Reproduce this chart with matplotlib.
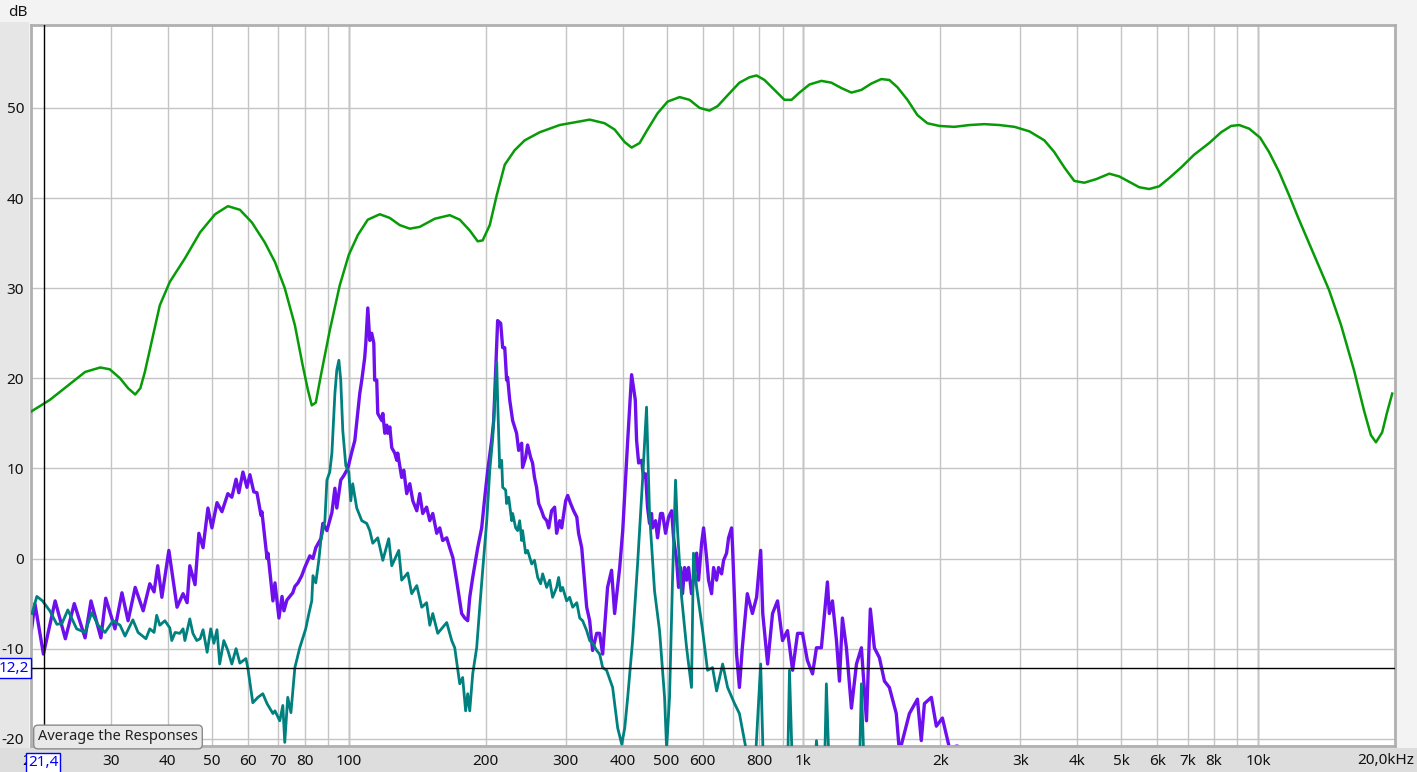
import numpy as np
import matplotlib
matplotlib.use('Agg')
import matplotlib.pyplot as plt
from matplotlib.ticker import LogLocator, NullFormatter
from matplotlib.patches import Rectangle

plt.rcParams['font.family'] = ['Noto Sans', 'DejaVu Sans']
plt.rcParams['axes.unicode_minus'] = False

# smoothed average response (green), (Hz, dB)
avg_points = [
    (20.0, 16.3), (22.0, 17.6), (24.4, 19.4), (26.3, 20.7), (28.4, 21.2), (29.8, 21.0),
    (31.4, 20.0), (32.7, 18.9), (33.9, 18.2), (34.8, 18.9), (35.6, 20.7), (36.9, 24.2),
    (38.4, 28.1), (40.4, 30.7), (43.6, 33.3), (47.1, 36.2), (50.8, 38.2), (54.2, 39.1),
    (57.6, 38.7), (61.2, 37.3), (65.3, 35.1), (68.8, 32.9), (72.3, 30.0), (76.1, 25.9),
    (79.2, 21.4), (81.3, 18.7), (82.9, 17.0), (84.6, 17.3), (86.8, 20.3), (90.8, 25.3),
    (95.5, 30.3), (100, 33.7), (104.7, 35.9), (110.1, 37.6), (117.0, 38.2), (123.0, 37.8),
    (129.4, 37.0), (136.2, 36.6), (143.2, 36.8), (154.5, 37.7), (166.7, 38.1), (175.4, 37.6),
    (184.5, 36.4), (192.1, 35.2), (197.0, 35.3), (204.2, 37.0), (211.5, 40.3), (220.3, 43.7),
    (231.6, 45.3), (243.7, 46.4), (263.0, 47.3), (290.9, 48.1), (313.9, 48.4), (338.7, 48.7),
    (365.3, 48.3), (384.3, 47.6), (404.5, 46.2), (418.8, 45.6), (436.1, 46.1), (454.0, 47.6),
    (477.6, 49.4), (502.5, 50.7), (534, 51.2), (561.4, 50.9), (591, 50.0), (621.2, 49.7),
    (647.5, 50.2), (681.0, 51.4), (723.0, 52.8), (760.8, 53.4), (788.6, 53.6), (820.8, 53.1),
    (863.4, 52.0), (908.1, 50.9), (941.6, 50.9), (980.0, 51.7), (1031, 52.6), (1095, 53.0),
    (1152, 52.8), (1212, 52.2), (1275, 51.7), (1341, 52.0), (1410, 52.7), (1483, 53.2),
    (1545, 53.1), (1609, 52.3), (1693, 50.9), (1781, 49.2), (1873, 48.3), (1990, 48.0),
    (2147, 47.9), (2317, 48.1), (2500, 48.2), (2698, 48.1), (2911, 47.9), (3140, 47.4),
    (3387, 46.4), (3562, 45.1), (3747, 43.4), (3941, 41.9), (4146, 41.7), (4405, 42.1),
    (4705, 42.7), (4948, 42.4), (5206, 41.8), (5476, 41.2), (5757, 41.0), (6058, 41.3),
    (6368, 42.2), (6773, 43.4), (7229, 44.8), (7803, 46.1), (8292, 47.3), (8723, 48.0),
    (9085, 48.1), (9555, 47.7), (10100, 46.7), (10570, 45.1), (11120, 42.9), (11700, 40.3),
    (12300, 37.6), (13270, 33.7), (14320, 29.8), (15220, 25.9), (16250, 20.9), (17100, 16.4),
    (17700, 13.7), (18160, 12.9), (18740, 14.0), (19210, 16.2), (19720, 18.3),
]

# measurement 1 (purple), (Hz, dB)
m1_points = [
    (20.0, -8.3), (20.4, -5.0), (21.3, -10.6), (22.6, -4.7), (23.8, -8.9), (24.9, -5.0),
    (26.3, -8.8), (27.1, -4.7), (28.5, -8.8), (29.2, -4.4), (30.6, -7.8), (31.7, -3.8),
    (32.7, -6.9), (33.9, -3.2), (35.3, -5.8), (36.5, -2.8), (37.3, -3.7), (38.0, -0.8),
    (38.8, -4.3), (40.2, 0.9), (41.9, -5.4), (43.2, -3.9), (44.1, -4.9), (44.7, -0.8),
    (45.9, -2.9), (46.8, 2.8), (47.8, 1.2), (49.0, 5.6), (50.0, 3.4), (51.3, 6.2),
    (52.6, 5.2), (54.2, 7.2), (55.3, 6.8), (56.5, 8.8), (57.3, 7.3), (58.5, 9.6),
    (59.7, 7.9), (60.6, 9.3), (61.8, 7.4), (62.8, 7.3), (64.1, 4.8), (64.4, 5.2),
    (66.1, 0.0), (66.4, 0.6), (68.1, -4.7), (68.8, -2.7), (70.2, -6.6), (71.3, -4.2),
    (72.0, -5.8), (73.1, -4.6), (75.3, -3.8), (76.1, -3.1), (77.3, -2.7), (78.8, -1.9),
    (80.0, -1.0), (82.1, 0.3), (83.4, 0.0), (84.6, 1.2), (86.8, 2.2), (87.7, 3.9),
    (89.5, 3.1), (91.8, 5.1), (93.2, 7.8), (94.1, 5.6), (96.0, 8.7), (97.5, 9.2),
    (99.5, 10.0), (101.5, 11.8), (103.1, 13.1), (105.7, 18.3), (106.8, 19.8), (108.4, 22.3),
    (109.0, 23.9), (110.1, 27.8), (111.2, 24.2), (112.3, 25.0), (113.5, 23.9), (114.0, 19.8),
    (115.2, 19.8), (115.8, 16.1), (118.2, 15.3), (118.8, 16.1), (120.0, 13.9), (121.2, 14.8),
    (121.8, 13.9), (123.1, 14.6), (124.3, 12.3), (126.2, 11.7), (127.5, 10.9), (128.1, 11.7),
    (130.7, 9.0), (132.1, 9.8), (134.1, 7.2), (136.2, 8.3), (138.3, 6.4), (141.1, 5.3),
    (143.2, 7.2), (145.4, 5.0), (148.3, 5.7), (150.7, 4.2), (153.0, 5.0), (156.1, 2.8),
    (158.5, 3.4), (160.9, 2.0), (164.2, 2.3), (166.7, 1.2), (169.4, 0.1), (172.6, -2.4),
    (177.1, -6.1), (179.9, -6.6), (182.6, -6.9), (184.5, -4.3), (187.3, -2.1), (192.1, 1.2),
    (196.0, 3.4), (199.1, 6.8), (202.1, 9.8), (206.2, 13.1), (208.3, 15.3), (212.5, 26.4),
    (215.8, 26.1), (218.0, 23.4), (220.3, 23.4), (222.4, 19.8), (223.5, 20.1), (225.9, 17.6),
    (229.3, 15.3), (233.9, 13.9), (236.4, 12.0), (240.0, 12.8), (241.1, 10.1), (244.8, 11.2),
    (247.3, 12.6), (251.2, 11.2), (253.6, 10.6), (256.1, 9.0), (258.8, 7.9), (261.6, 6.1),
    (265.5, 5.3), (268.4, 4.6), (272.4, 4.2), (275.2, 3.4), (279.3, 5.3), (283.6, 5.7),
    (286.5, 2.8), (290.9, 4.2), (293.9, 3.4), (299.9, 6.4), (303.0, 7.0), (307.5, 6.1),
    (312.2, 5.3), (317.3, 4.6), (320.2, 2.8), (325.3, 1.2), (333.6, -5.4), (338.7, -6.9),
    (343.7, -10.2), (350.9, -8.3), (356.2, -8.3), (361.7, -10.6), (370.8, -3.2), (378.4, -1.3),
    (384.3, -6.1), (394.3, -1.0), (400.4, 3.1), (410.6, 13.1), (418.8, 20.4), (426.7, 17.6),
    (429.5, 13.1), (434.0, 10.6), (440.5, 10.9), (445.0, 9.0), (449.5, 9.4), (454.0, 5.7),
    (458.6, 3.9), (463.3, 5.0), (465.6, 3.4), (472.8, 4.2), (477.6, 2.3), (485.0, 5.0),
    (489.9, 5.0), (497.4, 2.8), (505.1, 4.6), (512.9, 5.3), (518.0, 2.3), (526.0, -0.2),
    (531.3, -3.2), (536.6, -1.0), (542.0, -3.9), (547.6, -1.0), (553.3, -2.4), (558.8, -1.0),
    (567.2, -3.9), (572.9, -2.4), (582.1, 0.6), (587.9, -2.4), (597.0, 1.7), (603.0, 3.4),
    (612.2, 0.1), (618.4, -2.4), (627.9, -3.9), (634.3, -1.0), (644.0, -2.4), (650.6, -1.0),
    (660.6, -1.7), (667.3, -0.2), (677.5, 0.6), (684.4, 2.3), (694.9, 3.4), (698.4, 1.2),
    (712.6, -10.6), (723.0, -14.3), (733.7, -9.9), (752.5, -3.9), (772.2, -6.1), (788.6, -4.3),
    (805.2, 0.9), (813.7, -6.1), (834.0, -11.7), (855.0, -6.1), (876.9, -4.7), (899.3, -9.1),
    (922.3, -8.0), (946.4, -12.4), (970.6, -8.3), (995, -8.3), (1020, -11.3), (1047, -12.8),
    (1068, -9.9), (1095, -9.9), (1129, -2.6), (1140, -6.1), (1158, -4.7), (1182, -9.1),
    (1200, -13.6), (1218, -6.6), (1243, -9.9), (1275, -16.6), (1308, -11.7), (1341, -9.9),
    (1376, -18.0), (1403, -5.6), (1432, -9.9), (1469, -11.0), (1507, -13.6), (1545, -14.3),
    (1600, -17.2), (1626, -21.5), (1710, -17.2), (1781, -15.6), (1816, -20.2), (1845, -16.1),
    (1911, -15.4), (1960, -18.6), (2021, -17.7), (2094, -21.0), (2179, -20.8), (2280, -21.5),
]

# measurement 2 (teal), (Hz, dB)
m2_points = [
    (20.1, -6.1), (20.6, -4.2), (21.2, -4.7), (22.0, -5.8), (22.8, -7.3), (23.4, -7.2),
    (24.1, -5.7), (25.2, -7.8), (26.3, -8.2), (27.2, -6.0), (28.1, -7.4), (29.1, -8.2),
    (30.3, -6.9), (31.4, -7.4), (32.2, -8.6), (33.5, -6.8), (34.4, -8.2), (35.8, -8.9),
    (36.5, -7.8), (37.3, -8.2), (37.8, -6.3), (38.4, -7.4), (39.4, -6.9), (40.4, -7.7),
    (40.8, -9.1), (41.5, -8.2), (42.5, -8.3), (43.2, -7.8), (43.6, -9.1), (44.7, -6.7),
    (45.4, -8.3), (46.3, -9.1), (47.1, -8.9), (47.8, -7.9), (48.8, -10.4), (49.7, -7.8),
    (50.5, -9.4), (51.3, -7.9), (52.0, -11.7), (53.1, -9.1), (54.2, -10.2), (55.3, -11.7),
    (56.5, -10.0), (57.6, -11.6), (59.4, -11.1), (60.0, -12.2), (61.5, -16.0), (63.1, -15.4),
    (64.7, -15.0), (66.1, -16.1), (68.1, -17.2), (68.8, -16.9), (70.5, -18.0), (71.6, -16.3),
    (72.3, -20.4), (73.4, -15.4), (74.6, -17.1), (76.1, -12.1), (78.0, -9.9), (80.4, -7.8),
    (81.7, -6.1), (82.9, -4.7), (83.4, -1.9), (84.6, -2.7), (85.9, -0.2), (86.8, 2.0),
    (88.6, 4.2), (89.5, 8.7), (90.8, 9.6), (91.8, 11.7), (93.2, 18.3), (94.1, 20.9),
    (95.1, 22.0), (96.0, 19.8), (97.0, 14.2), (98.5, 10.3), (100, 9.6), (101.0, 6.4),
    (102.0, 8.3), (104.1, 5.6), (106.8, 4.2), (109.5, 3.9), (111.2, 3.1), (112.9, 1.7),
    (115.8, 2.3), (118.8, -0.2), (122.4, 2.2), (124.3, -0.8), (128.8, 0.9), (130.7, -2.4),
    (134.8, -1.6), (137.5, -3.9), (141.1, -3.0), (144.7, -5.4), (148.3, -4.9), (150.7, -7.4),
    (153.0, -6.1), (156.9, -8.3), (164.2, -7.1), (168.4, -9.1), (171.0, -9.9), (175.4, -13.9),
    (178.0, -13.2), (180.7, -16.9), (182.6, -15.0), (184.5, -16.9), (187.3, -12.8), (191.1, -9.9),
    (194.1, -5.4), (197.0, -1.3), (201.1, 4.2), (204.2, 9.8), (207.3, 13.4), (209.4, 17.6),
    (211.5, 21.8), (212.5, 17.6), (214.7, 10.1), (216.9, 10.9), (218.0, 7.9), (221.3, 7.6),
    (222.4, 6.1), (224.7, 6.8), (228.2, 4.2), (229.3, 5.0), (232.8, 3.4), (235.2, 3.1),
    (237.6, 4.2), (240.0, 2.0), (241.1, 3.1), (244.8, 0.6), (247.3, 0.9), (252.5, -0.6),
    (256.1, -0.2), (260.3, -2.1), (264.2, -2.8), (266.9, -1.7), (272.4, -3.2), (276.5, -2.4),
    (280.7, -4.3), (286.5, -3.2), (289.4, -2.1), (292.4, -3.6), (295.3, -3.2), (301.4, -4.7),
    (306.0, -4.3), (310.8, -5.4), (317.3, -4.9), (322.0, -6.6), (326.8, -6.9), (333.6, -8.0),
    (338.7, -9.1), (343.7, -9.4), (350.9, -10.2), (356.2, -10.6), (361.7, -12.1), (369.0, -12.4),
    (380.4, -14.3), (390.3, -18.8), (398.4, -20.6), (404.5, -18.8), (410.6, -15.4), (420.9, -9.1),
    (431.7, -0.6), (442.7, 8.7), (451.7, 16.8), (458.6, 5.0), (470.4, -3.6), (482.5, -8.0),
    (494.9, -15.4), (500.0, -21.1), (507.5, -15.4), (515.2, -2.4), (523.2, 8.7), (528.5, 3.1),
    (539.5, -4.3), (553.3, -9.9), (567.2, -14.3), (572.9, 0.6), (582.1, -3.2), (600.0, -8.0),
    (615.2, -12.4), (630.9, -12.1), (644.2, -14.7), (664.1, -11.7), (681.0, -14.3), (705.5, -16.1),
    (723.0, -17.2), (748.7, -21.3), (780.6, -24.0), (805.2, -11.7), (817.3, -24.0), (922.3, -24.0),
    (931.6, -12.4), (946.4, -24.0), (1057, -24.0), (1068, -20.2), (1084, -24.0), (1112, -24.0),
    (1123, -13.9), (1140, -24.0), (1327, -24.0), (1341, -13.9), (1361, -24.0), (1469, -24.0),
]
avg_f = [p[0] for p in avg_points]
avg_db = [p[1] for p in avg_points]
m1_f = [p[0] for p in m1_points]
m1_db = [p[1] for p in m1_points]
m2_f = [p[0] for p in m2_points]
m2_db = [p[1] for p in m2_points]

cursor_f = 21.4
cursor_db = -12.2
ytick_vals = [-20, -10, 0, 10, 20, 30, 40, 50]
xtick_vals = [20, 30, 40, 50, 60, 70, 80, 100, 200, 300, 400, 500, 600, 800,
              1000, 2000, 3000, 4000, 5000, 6000, 7000, 8000, 10000]
xtick_labels = ['20', '30', '40', '50', '60', '70', '80', '100', '200', '300', '400', '500',
                '600', '800', '1k', '2k', '3k', '4k', '5k', '6k', '7k', '8k', '10k']

W, H = 1417, 772
fig = plt.figure(figsize=(W / 100, H / 100), dpi=100, facecolor='#f3f3f3')
# grey strips left of and below the plot
fig.patches.append(Rectangle((0, 0), 29 / W, 1 - 22 / H, transform=fig.transFigure,
                             facecolor='#e6e6e6', edgecolor='none', zorder=-2))
fig.patches.append(Rectangle((0, 0), 1, 24 / H, transform=fig.transFigure,
                             facecolor='#dddddd', edgecolor='none', zorder=-1))

ax = fig.add_axes([31 / W, 26 / H, 1364 / W, 721 / H])
ax.set_facecolor('white')
ax.set_xscale('log')
ax.set_xlim(20, 20000)
ax.set_ylim(-20.8, 59.2)

ax.xaxis.remove_overlapping_locs = False
ax.xaxis.set_minor_locator(LogLocator(base=10, subs=np.arange(1, 10), numticks=50))
ax.xaxis.set_minor_formatter(NullFormatter())
ax.set_xticks(xtick_vals, xtick_labels)
ax.set_yticks(ytick_vals)
ax.grid(False)
ax.grid(True, which='minor', axis='x', color='#c4c4c4', lw=1)
ax.grid(True, which='major', axis='y', color='#c4c4c4', lw=1)
for dec in [100, 1000, 10000]:
    ax.axvline(dec, color='#8c8c8c', lw=1, zorder=1)

ax.tick_params(which='both', length=0)
ax.tick_params(axis='x', pad=6, labelsize=11, labelcolor='#111111')
ax.tick_params(axis='y', pad=5, labelsize=11, labelcolor='#111111')
for s in ax.spines.values():
    s.set_color('#b0b0b0')
    s.set_linewidth(2)

ax.plot(avg_f, avg_db, color='#079b07', lw=1.8, zorder=4)
ax.plot(m2_f, m2_db, color='#00817f', lw=2.0, zorder=3)
ax.plot(m1_f, m1_db, color='#6e10ee', lw=2.4, zorder=2)

# cursor
ax.axvline(cursor_f, color='black', lw=1, zorder=5)
ax.axhline(cursor_db, color='black', lw=1, zorder=5)

fig.text(8 / W, 1 - 13 / H, 'dB', fontsize=11, va='center', ha='left', color='#111111')
fig.text(1386 / W, 1 - 760 / H, '20,0kHz', fontsize=11, va='center', ha='center',
         color='#111111')
fig.text(43 / W, 1 - 763 / H, '21,4', fontsize=11, va='center', ha='center', color='#0000ff',
         bbox=dict(boxstyle='square,pad=0.15', facecolor='white', edgecolor='#0000ff', lw=1))
fig.text(29 / W, 1 - 668 / H, '12,2', fontsize=11, va='center', ha='right', color='#0000ff',
         bbox=dict(boxstyle='square,pad=0.15', facecolor='white', edgecolor='#0000ff', lw=1))
fig.text(118 / W, 1 - 737 / H, 'Average the Responses', fontsize=10.5, va='center',
         ha='center', color='#222222', zorder=10,
         bbox=dict(boxstyle='round,pad=0.3,rounding_size=0.3', facecolor='#e9e9e9',
                   edgecolor='#8a8a8a', lw=1))

fig.savefig('out.png', dpi=100, facecolor=fig.get_facecolor())
